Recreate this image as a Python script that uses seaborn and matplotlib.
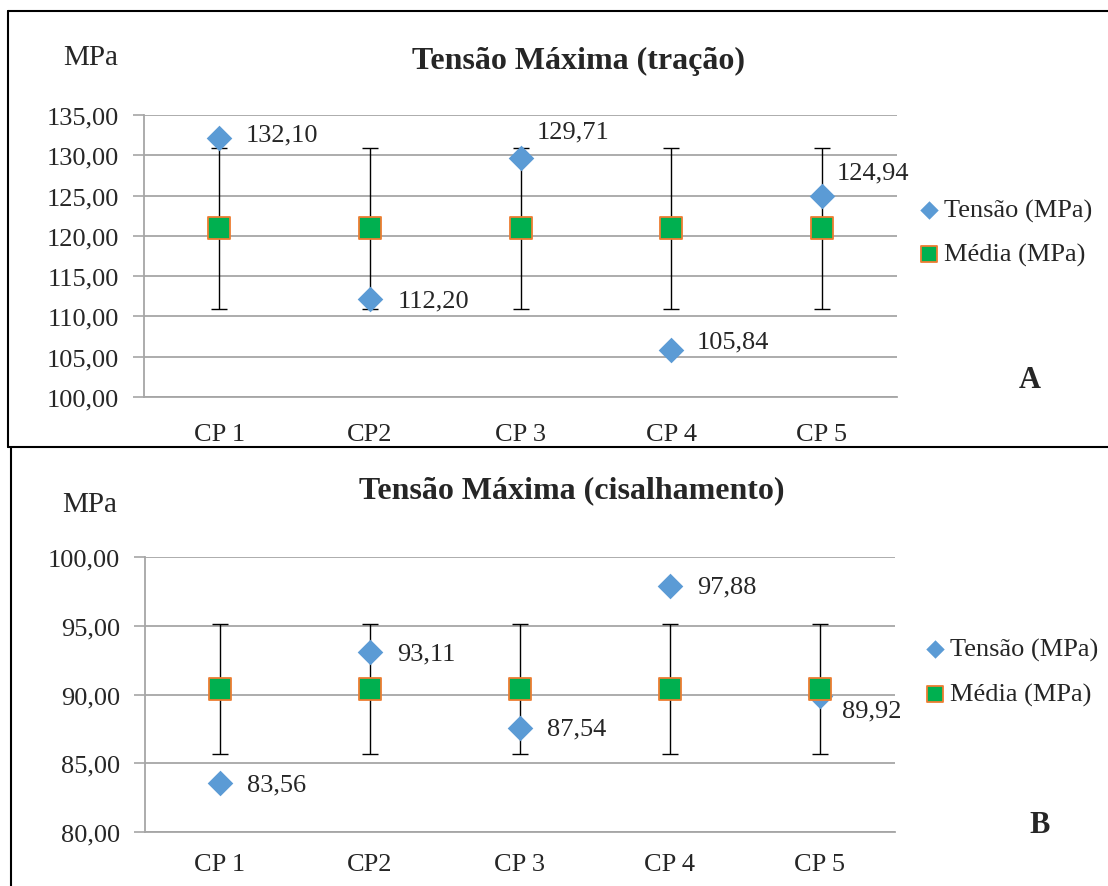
import numpy as np
import pandas as pd
import matplotlib
matplotlib.use("Agg")
import matplotlib.pyplot as plt
import seaborn as sns
from matplotlib.lines import Line2D
from matplotlib.ticker import FuncFormatter, FixedLocator

# ---- data ----
categories = ["CP 1", "CP2", "CP 3", "CP 4", "CP 5"]
tensao_tracao = [132.10, 112.20, 129.71, 105.84, 124.94]
media_tracao = [120.96, 120.96, 120.96, 120.96, 120.96]
erro_tracao = [10.0, 10.0, 10.0, 10.0, 10.0]

tensao_cis = [83.56, 93.11, 87.54, 97.88, 89.92]
media_cis = [90.40, 90.40, 90.40, 90.40, 90.40]
erro_cis = [4.7, 4.7, 4.7, 4.7, 4.7]

titles = ["Tensão Máxima (tração)", "Tensão Máxima (cisalhamento)"]
panel_letters = ["A", "B"]
series_names = ["Tensão (MPa)", "Média (MPa)"]
yticks_top = [100, 105, 110, 115, 120, 125, 130, 135]
yticks_bot = [80, 85, 90, 95, 100]

# label offsets (pixels) for data labels
offs_top = [(26, 4), (28, -2), (16, 26), (26, 8), (15, 24)]
offs_bot = [(27, -1), (27, -2), (27, 0), (27, 0), (22, -15)]

sns.set_style("white")
plt.rcParams["font.family"] = ["Liberation Serif", "DejaVu Serif"]

W, H = 1108, 887
fig = plt.figure(figsize=(W / 100, H / 100), dpi=100)

BLUE = "#5B9BD5"
GREEN = "#00B050"
ORANGE = "#ED7D31"
GRID = "#A6A6A6"
FS = 19


def px_rect(l, t, r, b):
    return [l / W, 1 - b / H, (r - l) / W, (b - t) / H]


def fmt(v, _=None):
    return f"{v:.2f}".replace(".", ",")


def panel(rect, tensao, media, erro, yticks, offs, title, title_xy, mpa_xy,
          letter, letter_xy, leg_xy, leg_space, xpad):
    ax = fig.add_axes(rect)
    df = pd.DataFrame({"cat": categories, "tensao": tensao, "media": media, "erro": erro})
    ax.errorbar(df["cat"], df["media"], yerr=df["erro"], fmt="none",
                ecolor="black", elinewidth=1.0, capsize=6, capthick=1.0, zorder=2)
    sns.scatterplot(data=df, x="cat", y="tensao", marker="D", s=170, color=BLUE,
                    edgecolor=BLUE, linewidth=0, ax=ax, zorder=3, label=series_names[0])
    sns.scatterplot(data=df, x="cat", y="media", marker="s", s=235, color=GREEN,
                    edgecolor=ORANGE, linewidth=1.3, ax=ax, zorder=4, label=series_names[1])
    for i, (c, v) in enumerate(zip(categories, tensao)):
        ax.annotate(fmt(v), (i, v), xytext=offs[i], textcoords="offset pixels",
                    ha="left", va="center", fontsize=FS, zorder=5)
    ax.set_xlim(-0.5, len(categories) - 0.5)
    ax.set_ylim(yticks[0], yticks[-1])
    ax.set_yticks(yticks)
    ax.yaxis.set_major_formatter(FuncFormatter(fmt))
    ax.set_xticks(range(len(categories)))
    ax.set_xticklabels(categories)
    ax.xaxis.set_minor_locator(FixedLocator(np.arange(-0.5, len(categories), 1.0)))
    ax.tick_params(axis="x", which="major", length=0, pad=xpad, labelsize=FS)
    ax.tick_params(axis="x", which="minor", length=7, width=1.2, color=GRID, direction="out")
    ax.tick_params(axis="y", which="major", length=8, width=1.2, color=GRID,
                   direction="out", pad=10, labelsize=FS, left=True)
    ax.grid(axis="y", color=GRID, linewidth=1.3)
    ax.set_axisbelow(True)
    for s in ["top", "right"]:
        ax.spines[s].set_visible(False)
    for s in ["left", "bottom"]:
        ax.spines[s].set_color(GRID)
        ax.spines[s].set_linewidth(1.3)
    ax.set_xlabel("")
    ax.set_ylabel("")
    ax.legend(loc="upper left", bbox_to_anchor=(leg_xy[0] / W, 1 - leg_xy[1] / H),
              bbox_transform=fig.transFigure, frameon=False, fontsize=FS,
              handlelength=0.8, handletextpad=0.2, labelspacing=leg_space,
              borderpad=0, borderaxespad=0, markerscale=0.72)
    fig.text(title_xy[0] / W, 1 - title_xy[1] / H, title, ha="center", va="center",
             fontsize=23, fontweight="bold")
    fig.text(mpa_xy[0] / W, 1 - mpa_xy[1] / H, "MPa", ha="center", va="center", fontsize=21)
    fig.text(letter_xy[0] / W, 1 - letter_xy[1] / H, letter, ha="center", va="center",
             fontsize=22, fontweight="bold")
    return ax


panel(px_rect(144, 116, 897, 398), tensao_tracao, media_tracao, erro_tracao, yticks_top,
      offs_top, titles[0], (578, 61), (91, 58), panel_letters[0], (1030, 380), (918, 199),
      0.78, 19)
panel(px_rect(145, 558, 895, 833), tensao_cis, media_cis, erro_cis, yticks_bot,
      offs_bot, titles[1], (572, 491), (90, 505), panel_letters[1], (1040, 826), (924, 638),
      0.82, 15)

# panel borders
def fline(x0, y0, x1, y1, lw=1.5):
    fig.add_artist(Line2D([x0 / W, x1 / W], [1 - y0 / H, 1 - y1 / H],
                          transform=fig.transFigure, color="black", linewidth=lw))

fline(8, 12, 8, 448)
fline(8, 12, W, 12)
fline(8, 448, W, 448)
fline(10.7, 449, 10.7, H)

fig.savefig("out.png", dpi=100)
